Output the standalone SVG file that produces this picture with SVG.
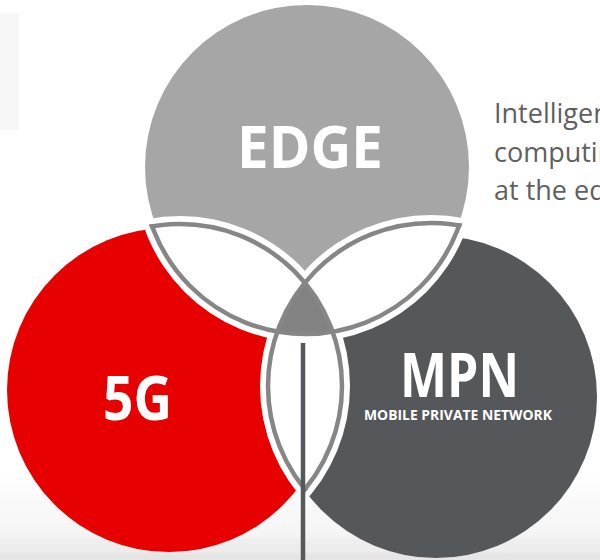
<svg xmlns="http://www.w3.org/2000/svg" width="600" height="560" viewBox="0 0 600 560">
  <defs>
    <style>
      .lbl { font-family: "Open Sans", "Liberation Sans", sans-serif; font-weight: 700; fill: #ffffff; text-anchor: middle; }
      .desc { font-family: "Open Sans", "Liberation Sans", sans-serif; font-weight: 400; font-size: 27px; fill: #5f5f5f; }
      .ol { fill: none; stroke: #868686; stroke-width: 4.5; }
    </style>
    <linearGradient id="bg" x1="0" y1="0" x2="0" y2="560" gradientUnits="userSpaceOnUse">
      <stop offset="0" stop-color="#ffffff"/>
      <stop offset="0.84" stop-color="#ffffff"/>
      <stop offset="0.958" stop-color="#f4f4f4"/>
      <stop offset="0.962" stop-color="#efefef"/>
      <stop offset="0.986" stop-color="#ececec"/>
      <stop offset="0.99" stop-color="#e5e5e5"/>
      <stop offset="1" stop-color="#e5e5e5"/>
    </linearGradient>
    <mask id="mEdge" maskUnits="userSpaceOnUse" x="0" y="0" width="600" height="560">
      <rect width="600" height="560" fill="#fff"/>
      <circle cx="180" cy="386" r="170" fill="#000"/>
      <circle cx="431" cy="386" r="171" fill="#000"/>
    </mask>
    <mask id="m5g" maskUnits="userSpaceOnUse" x="0" y="0" width="600" height="560">
      <rect width="600" height="560" fill="#fff"/>
      <circle cx="305.5" cy="171" r="171" fill="#000"/>
      <circle cx="431" cy="386" r="171" fill="#000"/>
    </mask>
    <mask id="mMpn" maskUnits="userSpaceOnUse" x="0" y="0" width="600" height="560">
      <rect width="600" height="560" fill="#fff"/>
      <circle cx="305.5" cy="171" r="171" fill="#000"/>
      <circle cx="180" cy="386" r="170" fill="#000"/>
    </mask>
    <clipPath id="cA">
      <circle cx="180" cy="386" r="164.5"/>
      <circle cx="431" cy="386" r="165.5"/>
    </clipPath>
    <clipPath id="cB">
      <circle cx="305.5" cy="171" r="165.5"/>
      <circle cx="431" cy="386" r="165.5"/>
    </clipPath>
    <clipPath id="cC">
      <circle cx="305.5" cy="171" r="165.5"/>
      <circle cx="180" cy="386" r="164.5"/>
    </clipPath>
    <clipPath id="inB"><circle cx="180" cy="386" r="162"/></clipPath>
    <clipPath id="inC"><circle cx="431" cy="386" r="163"/></clipPath>
  </defs>

  <rect width="600" height="560" fill="url(#bg)"/>
  <rect x="0" y="13" width="19" height="117" fill="#f7f7f7"/>

  <g id="edge">
    <circle cx="307" cy="167" r="162" fill="#a6a6a6" mask="url(#mEdge)"/>
    <text class="lbl" x="310" y="168" font-size="59" textLength="146" lengthAdjust="spacingAndGlyphs">EDGE</text>
  </g>

  <g id="fiveg">
    <circle cx="169" cy="390" r="162" fill="#e60000" mask="url(#m5g)"/>
    <text class="lbl" x="137.5" y="420" font-size="60" textLength="69" lengthAdjust="spacingAndGlyphs">5G</text>
  </g>

  <g id="mpn">
    <circle cx="436" cy="397" r="161" fill="#55585a" mask="url(#mMpn)"/>
    <text class="lbl" x="459.5" y="397" font-size="61" textLength="119" lengthAdjust="spacingAndGlyphs">MPN</text>
    <text class="lbl" x="458" y="420" font-size="13.5" textLength="188" lengthAdjust="spacingAndGlyphs">MOBILE PRIVATE NETWORK</text>
  </g>

  <g id="overlaps">
    <g clip-path="url(#inB)">
      <circle cx="305.5" cy="171" r="163" fill="#828282" clip-path="url(#inC)"/>
    </g>
    <circle class="ol" cx="305.5" cy="171" r="163" clip-path="url(#cA)"/>
    <circle class="ol" cx="180" cy="386" r="162" clip-path="url(#cB)"/>
    <circle class="ol" cx="431" cy="386" r="163" clip-path="url(#cC)"/>
  </g>

  <g id="description">
    <text class="desc" x="494" y="123">Intelligen</text>
    <text class="desc" x="494" y="162">computin</text>
    <text class="desc" x="494" y="200">at the ed</text>
  </g>

  <g id="connectors">
    <line x1="303" y1="343" x2="303" y2="560" stroke="#56595c" stroke-width="4.5"/>
  </g>
</svg>
